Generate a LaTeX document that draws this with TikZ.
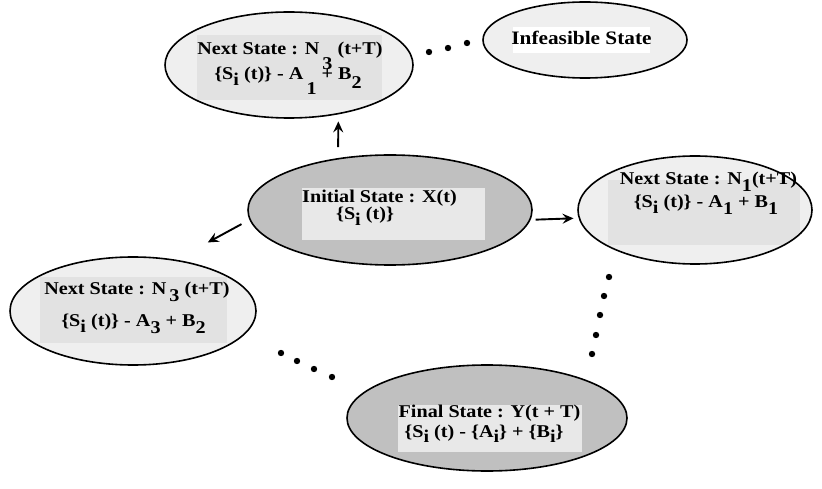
\documentclass[tikz,border=0pt]{standalone}
\usepackage{fontspec}
\setmainfont{Liberation Serif}[FakeStretch=1.12]
\usetikzlibrary{shapes.geometric,arrows.meta}
% lowered full-size index, as in N_3 or S_i
\newcommand\lowr[2][0.38em]{\raisebox{-#1}{#2}}
\definecolor{darkfill}{HTML}{C0C0C0}
\definecolor{lightfill}{HTML}{EFEFEF}
\definecolor{panelonlight}{HTML}{E2E2E2}
\definecolor{panelondark}{HTML}{E8E8E8}
\begin{document}
\begin{tikzpicture}[x=1bp,y=-1bp,
  state/.style={ellipse, draw=black, line width=1.6bp, inner sep=0pt},
  % text panel inside a state: offset from centre (dx,dy), size (w,h), colour
  panel/.style n args={5}{path picture={
      \fill[#5] ([shift={(#1-#3/2,#2-#4/2)}]path picture bounding box.center) rectangle ++(#3,#4);}},
  txt/.style={anchor=base, inner sep=0pt, font=\bfseries\fontsize{18bp}{20bp}\selectfont},
  arr/.style={line width=1.9bp, -{Stealth[length=11bp,width=10bp,inset=4bp]}},
  dot/.style={fill=black}]
\useasboundingbox (0,0) rectangle (822,489);

% --- states ---
\node[state, fill=lightfill, minimum width=248bp, minimum height=106bp,
      panel={0.5}{2.5}{185}{65}{panelonlight}] (n3top) at (289,65) {};
\node[txt] (n3topa) at (290,55) {Next State : N\,\lowr[0.8em]{3} (t+T)};
\node[txt] (n3topb) at (288,80) {\{S\lowr[0.3em]{i} (t)\} - A\,\lowr[0.8em]{1} + B\lowr[0.45em]{2}};

\node[state, fill=lightfill, minimum width=204bp, minimum height=76bp,
      panel={-3.5}{0}{137}{26}{white}] (infeas) at (585,40) {};
\node[txt, font=\bfseries\fontsize{19bp}{21bp}\selectfont] (infeast) at (581.5,45) {Infeasible State};

\node[state, fill=darkfill, minimum width=284bp, minimum height=110bp,
      panel={3.5}{4}{183}{52}{panelondark}] (init) at (390,210) {};
\node[txt] (inita) at (379.5,203) {Initial State : X(t)};
\node[txt] (initb) at (365,220) {\{S\lowr[0.3em]{i} (t)\}};

\node[state, fill=lightfill, minimum width=234bp, minimum height=108bp,
      panel={9}{2.5}{192}{65}{panelonlight}] (n1) at (695,210) {};
\node[txt] (n1a) at (708.5,185) {Next State : N\lowr{1}(t+T)};
\node[txt] (n1b) at (706,208) {\{S\lowr[0.3em]{i} (t)\} - A\lowr{1} + B\lowr{1}};

\node[state, fill=lightfill, minimum width=246bp, minimum height=108bp,
      panel={0.5}{-1}{187}{66}{panelonlight}] (n3left) at (133,311) {};
\node[txt] (n3lefta) at (137,295) {Next State : N\,\lowr{3} (t+T)};
\node[txt] (n3leftb) at (133.5,327) {\{S\lowr[0.3em]{i} (t)\} - A\lowr{3} + B\lowr{2}};

\node[state, fill=darkfill, minimum width=280bp, minimum height=106bp,
      panel={3}{10.5}{184}{47}{panelondark}] (final) at (487,418) {};
\node[txt] (finala) at (489.5,417) {Final State : Y(t + T)};
\node[txt] (finalb) at (484,437) {\{S\lowr[0.3em]{i} (t) - \{A\lowr[0.3em]{i}\} + \{B\lowr[0.3em]{i}\}};

% --- transitions ---
\draw[arr, shorten <=11bp, shorten >=7bp] (init.135.6) -- (n3top.315.2);
\draw[arr, shorten <=9bp, shorten >=36bp] (init.184.9) -- (n3left.50.5);
\draw[arr, shorten <=5bp, shorten >=5bp] (init.356.3) -- (n1.184.5);

% --- ellipsis dots ---
\foreach \p in {(429,52),(448,48),(467,43)} \fill[dot] \p circle (3.2bp);
\foreach \p in {(609,277),(604,296),(600,315),(596,335),(592,354)} \fill[dot] \p circle (3.2bp);
\foreach \p in {(281,353),(297,361),(314,369),(332,377)} \fill[dot] \p circle (3.2bp);
\end{tikzpicture}
\end{document}
